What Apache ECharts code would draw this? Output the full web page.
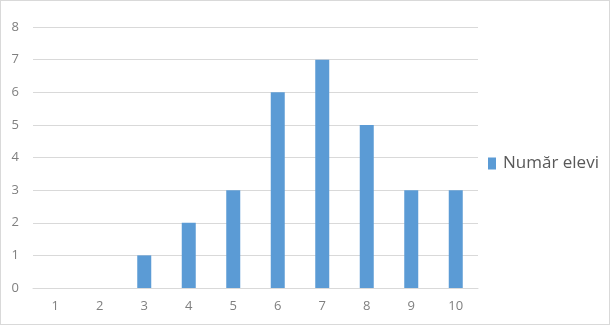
<!DOCTYPE html>
<html><head><meta charset="utf-8">
<script src="https://cdn.jsdelivr.net/npm/echarts@6/dist/echarts.min.js"></script>
<style>html,body{margin:0;padding:0;background:#fff}#c{width:610px;height:325px;box-sizing:border-box;border:1px solid #d9d9d9}</style>
</head><body><div id="c"></div>
<script>
const categories = ['1','2','3','4','5','6','7','8','9','10'];
const seriesName = 'Număr elevi';
const values = [0,0,1,2,3,6,7,5,3,3];
const yTicks = {min:0, max:8, interval:1};

const chart = echarts.init(document.getElementById('c'), null, {renderer:'canvas'});
chart.setOption({
  animation:false,
  grid:{left:32, right:131, top:26, bottom:36, containLabel:false},
  legend:{
    data:[seriesName], orient:'vertical', left:482, top:149,
    itemWidth:8, itemHeight:12, itemGap:4,
    textStyle:{color:'#595959', fontSize:17, padding:[0,0,0,2], fontFamily:'"Open Sans", "Liberation Sans", sans-serif'},
    icon:'rect'
  },
  xAxis:{
    type:'category', data:categories,
    axisLine:{show:true, lineStyle:{color:'#d9d9d9', width:1}},
    axisTick:{show:false},
    axisLabel:{color:'#7f7f7f', fontSize:13, margin:12, fontFamily:'"Open Sans", "Liberation Sans", sans-serif'}
  },
  yAxis:{
    type:'value', min:yTicks.min, max:yTicks.max, interval:yTicks.interval,
    axisLine:{show:false}, axisTick:{show:false},
    axisLabel:{color:'#7f7f7f', fontSize:13, margin:14, fontFamily:'"Open Sans", "Liberation Sans", sans-serif'},
    splitLine:{lineStyle:{color:'#d9d9d9', width:1}}
  },
  series:[{
    name:seriesName, type:'bar', data:values, barWidth:14,
    itemStyle:{color:'#5b9bd5'}
  }]
});
</script></body></html>
